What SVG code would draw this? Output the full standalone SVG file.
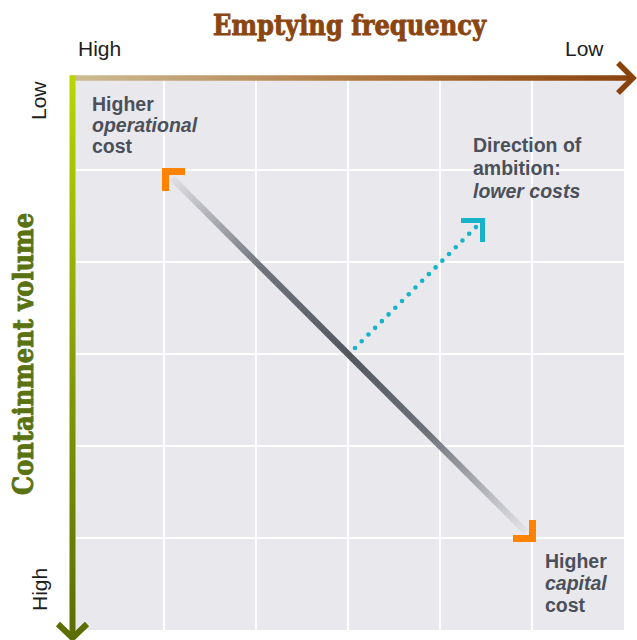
<svg xmlns="http://www.w3.org/2000/svg" width="637" height="640" viewBox="0 0 637 640">
  <defs>
    <linearGradient id="gTop" x1="72" y1="0" x2="634" y2="0" gradientUnits="userSpaceOnUse">
      <stop offset="0" stop-color="#cdbd95"/>
      <stop offset="0.5" stop-color="#b07a45"/>
      <stop offset="1" stop-color="#8a420c"/>
    </linearGradient>
    <linearGradient id="gLeft" x1="0" y1="78" x2="0" y2="638" gradientUnits="userSpaceOnUse">
      <stop offset="0" stop-color="#b9d600"/>
      <stop offset="0.5" stop-color="#889d08"/>
      <stop offset="1" stop-color="#5b6e00"/>
    </linearGradient>
    <linearGradient id="gDiag" x1="172" y1="178" x2="526" y2="532" gradientUnits="userSpaceOnUse">
      <stop offset="0" stop-color="#e0e0e4"/>
      <stop offset="0.25" stop-color="#70747c"/>
      <stop offset="0.5" stop-color="#53575f"/>
      <stop offset="0.72" stop-color="#6e727a"/>
      <stop offset="1" stop-color="#e4e4e8"/>
    </linearGradient>
    <style>
      .lbl { font-family: "Liberation Sans", Arial, sans-serif; font-size: 19.5px; font-weight: bold; fill: #4b505a; }
      .it { font-style: italic; }
      .ax { font-family: "Liberation Sans", Arial, sans-serif; font-size: 21px; fill: #1e1e1e; }
      .title { font-family: "DejaVu Serif", "Liberation Serif", serif; font-weight: bold; font-size: 28px; stroke-width: 0.9; }
      .grid { stroke: #ffffff; stroke-width: 2; }
      .orange { fill: none; stroke: #ff8200; stroke-width: 7; stroke-linejoin: miter; }
      .cyan { fill: none; stroke: #17b3c9; }
    </style>
  </defs>
  <rect width="637" height="640" fill="#ffffff"/>

  <g id="plot">
    <rect x="72" y="78" width="552" height="552" fill="#e9e9ed"/>
    <g class="grid">
      <line x1="164" y1="80" x2="164" y2="630"/>
      <line x1="256" y1="80" x2="256" y2="630"/>
      <line x1="348" y1="80" x2="348" y2="630"/>
      <line x1="440" y1="80" x2="440" y2="630"/>
      <line x1="532" y1="80" x2="532" y2="630"/>
      <line x1="76" y1="170" x2="624" y2="170"/>
      <line x1="76" y1="262" x2="624" y2="262"/>
      <line x1="76" y1="354" x2="624" y2="354"/>
      <line x1="76" y1="446" x2="624" y2="446"/>
      <line x1="76" y1="538" x2="624" y2="538"/>
    </g>
  </g>

  <g id="connectors">
    <line x1="172" y1="178" x2="526" y2="532" stroke="url(#gDiag)" stroke-width="6.5"/>
    <line class="cyan" x1="355" y1="348" x2="476" y2="227" stroke-width="4.6" stroke-linecap="round" stroke-dasharray="0 9.5"/>
  </g>

  <g id="axis-top">
    <line x1="70" y1="78" x2="631" y2="78" stroke="url(#gTop)" stroke-width="5.5"/>
    <path d="M618,63 L633,78 L618,93" fill="none" stroke="#8a420c" stroke-width="5.5" stroke-linejoin="miter"/>
    <text class="title" x="213" y="35" fill="#8a4510" stroke="#8a4510" textLength="273" lengthAdjust="spacingAndGlyphs">Emptying frequency</text>
    <text class="ax" x="78" y="56">High</text>
    <text class="ax" x="565" y="56">Low</text>
  </g>

  <g id="axis-left">
    <line x1="72.5" y1="75.5" x2="72.5" y2="634" stroke="url(#gLeft)" stroke-width="6"/>
    <path d="M58,624 L72.5,638 L87,624" fill="none" stroke="#5b6e00" stroke-width="6" stroke-linejoin="miter"/>
    <text class="title" transform="translate(33,495) rotate(-90)" x="0" y="0" fill="#5a7212" stroke="#5a7212" textLength="282" lengthAdjust="spacingAndGlyphs">Containment volume</text>
    <text class="ax" transform="translate(46,120) rotate(-90)" x="0" y="0">Low</text>
    <text class="ax" transform="translate(47,611) rotate(-90)" x="0" y="0">High</text>
  </g>

  <g id="node-operational">
    <path class="orange" d="M165.5,191 V171.5 H185"/>
    <text class="lbl" x="92" y="111">Higher</text>
    <text class="lbl it" x="92" y="132">operational</text>
    <text class="lbl" x="92" y="153">cost</text>
  </g>

  <g id="node-capital">
    <path class="orange" d="M532.5,520 V538.5 H513"/>
    <text class="lbl" x="545" y="568">Higher</text>
    <text class="lbl it" x="545" y="590">capital</text>
    <text class="lbl" x="545" y="612">cost</text>
  </g>

  <g id="node-ambition">
    <path class="cyan" d="M461,220.5 H482.5 V242" stroke-width="5"/>
    <text class="lbl" x="473" y="152">Direction of</text>
    <text class="lbl" x="473" y="175">ambition:</text>
    <text class="lbl it" x="473" y="198">lower costs</text>
  </g>
</svg>
